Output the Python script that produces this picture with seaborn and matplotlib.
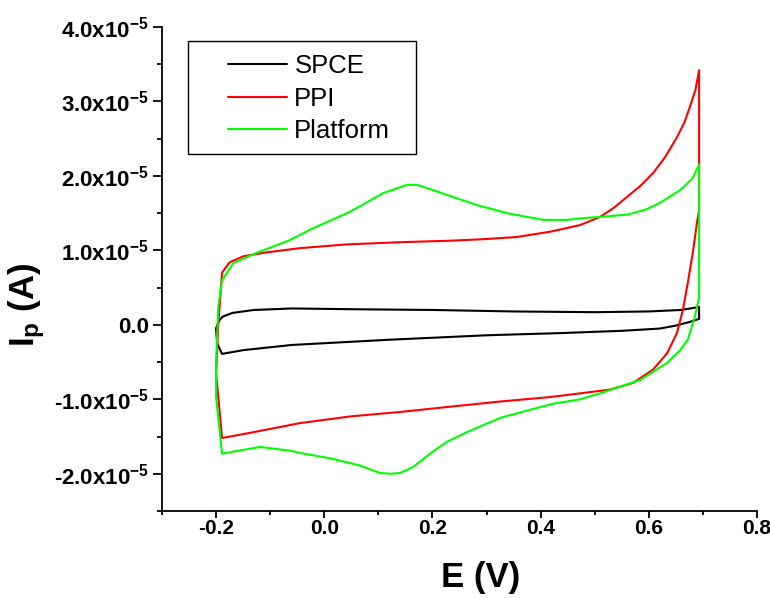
import matplotlib
matplotlib.use("Agg")
import matplotlib.pyplot as plt
from matplotlib.ticker import MultipleLocator, FuncFormatter
from matplotlib.patches import Rectangle
import seaborn as sns

# cyclic voltammograms, potential in V, current in units of 1e-5 A
spce_E = [-0.200, -0.195, -0.188, -0.170, -0.130, -0.060, 0.050, 0.200, 0.350, 0.500, 0.600, 0.660, 0.693,
          0.693, 0.676, 0.650, 0.620, 0.550, 0.440, 0.300, 0.120, -0.060, -0.150, -0.189, -0.198, -0.200]
spce_I = [-0.05, 0.05, 0.11, 0.16, 0.20, 0.22, 0.21, 0.20, 0.18, 0.17, 0.18, 0.20, 0.24,
          0.08, 0.04, -0.01, -0.05, -0.08, -0.11, -0.14, -0.20, -0.27, -0.34, -0.39, -0.25, -0.05]

ppi_E = [-0.200, -0.196, -0.189, -0.175, -0.150, -0.110, -0.045, 0.040, 0.140, 0.232, 0.293, 0.356, 0.417,
         0.473, 0.510, 0.535, 0.560, 0.585, 0.608, 0.630, 0.652, 0.666, 0.676, 0.686, 0.693,
         0.693, 0.689, 0.682, 0.672, 0.663, 0.652, 0.634, 0.608, 0.571, 0.528, 0.473, 0.417, 0.325,
         0.232, 0.140, 0.048, -0.045, -0.137, -0.189, -0.200]
ppi_I = [-0.65, 0.00, 0.70, 0.84, 0.92, 0.97, 1.03, 1.08, 1.11, 1.13, 1.15, 1.18, 1.25,
         1.34, 1.45, 1.57, 1.72, 1.87, 2.04, 2.25, 2.52, 2.72, 2.93, 3.15, 3.42,
         1.54, 1.37, 1.00, 0.56, 0.20, -0.11, -0.38, -0.60, -0.78, -0.87, -0.92, -0.97, -1.03,
         -1.10, -1.17, -1.23, -1.32, -1.45, -1.52, -0.65]

plat_E = [-0.200, -0.200, -0.196, -0.189, -0.168, -0.124, -0.063, -0.026, 0.048, 0.109, 0.153, 0.172,
          0.201, 0.245, 0.282, 0.338, 0.405, 0.449, 0.473, 0.510, 0.560, 0.595, 0.621, 0.658, 0.680, 0.693,
          0.693, 0.685, 0.672, 0.658, 0.634, 0.584, 0.510, 0.473, 0.423, 0.386, 0.325, 0.264, 0.227,
          0.201, 0.164, 0.140, 0.122, 0.103, 0.066, 0.016, -0.045, -0.063, -0.119, -0.189, -0.200]
plat_I = [-0.97, -0.51, 0.24, 0.60, 0.83, 0.97, 1.14, 1.28, 1.52, 1.77, 1.88, 1.88,
          1.81, 1.70, 1.61, 1.50, 1.41, 1.41, 1.43, 1.45, 1.48, 1.55, 1.64, 1.81, 1.96, 2.15,
          0.37, 0.11, -0.20, -0.34, -0.51, -0.74, -0.92, -1.00, -1.06, -1.13, -1.25, -1.44, -1.57,
          -1.70, -1.91, -1.99, -2.00, -1.99, -1.89, -1.80, -1.72, -1.69, -1.64, -1.73, -0.97]

labels = ["SPCE", "PPI", "Platform"]
colors = ["#000000", "#ff0000", "#00ff00"]

sns.set_style("ticks", rc={"axes.edgecolor": "black", "xtick.color": "black",
                           "ytick.color": "black", "text.color": "black",
                           "axes.labelcolor": "black"})
plt.rcParams["font.family"] = ["Liberation Sans", "DejaVu Sans"]
plt.rcParams["mathtext.fontset"] = "custom"
plt.rcParams["mathtext.bf"] = "Liberation Sans:bold"
plt.rcParams["mathtext.rm"] = "Liberation Sans"
plt.rcParams["mathtext.default"] = "bf"

fig = plt.figure(figsize=(7.7, 5.98), dpi=100)
ax = fig.add_axes([0.2104, 0.1455, 0.7727, 0.8093])

series = [(spce_E, spce_I), (ppi_E, ppi_I), (plat_E, plat_I)]
for (E, I), lab, col in zip(series, labels, colors):
    sns.lineplot(x=E, y=[v * 1e-5 for v in I], sort=False, estimator=None,
                 color=col, lw=1.5, label=lab, ax=ax)

ax.set_xlim(-0.3, 0.8)
ax.set_ylim(-2.5e-5, 4.0e-5)
ax.xaxis.set_major_locator(MultipleLocator(0.2))
ax.xaxis.set_minor_locator(MultipleLocator(0.1))
ax.yaxis.set_major_locator(MultipleLocator(1e-5))
ax.yaxis.set_minor_locator(MultipleLocator(0.5e-5))


def ylab(v, pos):
    m = round(v / 1e-5, 1)
    if m == 0:
        return "0.0"
    return "%.1fx10$^{-5}$" % m


ax.yaxis.set_major_formatter(FuncFormatter(ylab))
ax.xaxis.set_major_formatter(FuncFormatter(lambda v, p: "%.1f" % v))

sns.despine(ax=ax)
for s in ["left", "bottom"]:
    ax.spines[s].set_linewidth(1.3)
ax.tick_params(axis="y", which="major", length=6.5, width=1.3, pad=3, labelsize=16)
ax.tick_params(axis="y", which="minor", length=3.6, width=1.3)
ax.tick_params(axis="x", which="major", length=5, width=1.3, pad=1, labelsize=15)
ax.tick_params(axis="x", which="minor", length=3, width=1.3)
for t in ax.get_xticklabels() + ax.get_yticklabels():
    t.set_fontweight("bold")

ax.set_xlabel("")
ax.set_ylabel("")
fig.text(481 / 770, 1 - 578 / 598, "E (V)", fontsize=25, fontweight="bold", ha="center", va="center")
fig.text(27 / 770, 1 - 305 / 598, "I$_{p}$ (A)", fontsize=25, fontweight="bold",
         rotation=90, ha="center", va="center")

# legend entries without frame, the frame drawn as a plain box
leg = ax.legend(loc="upper left", bbox_to_anchor=(0.111, 0.944), borderaxespad=0,
                fontsize=18.5, handlelength=2.3, handletextpad=0.28, labelspacing=0.33,
                borderpad=0, frameon=False)
ax.add_patch(Rectangle((0.0437, 0.7376), 0.3832, 0.2334, transform=ax.transAxes,
                       fill=False, edgecolor="black", lw=1.0, zorder=5))

fig.savefig("out.png", dpi=100)
